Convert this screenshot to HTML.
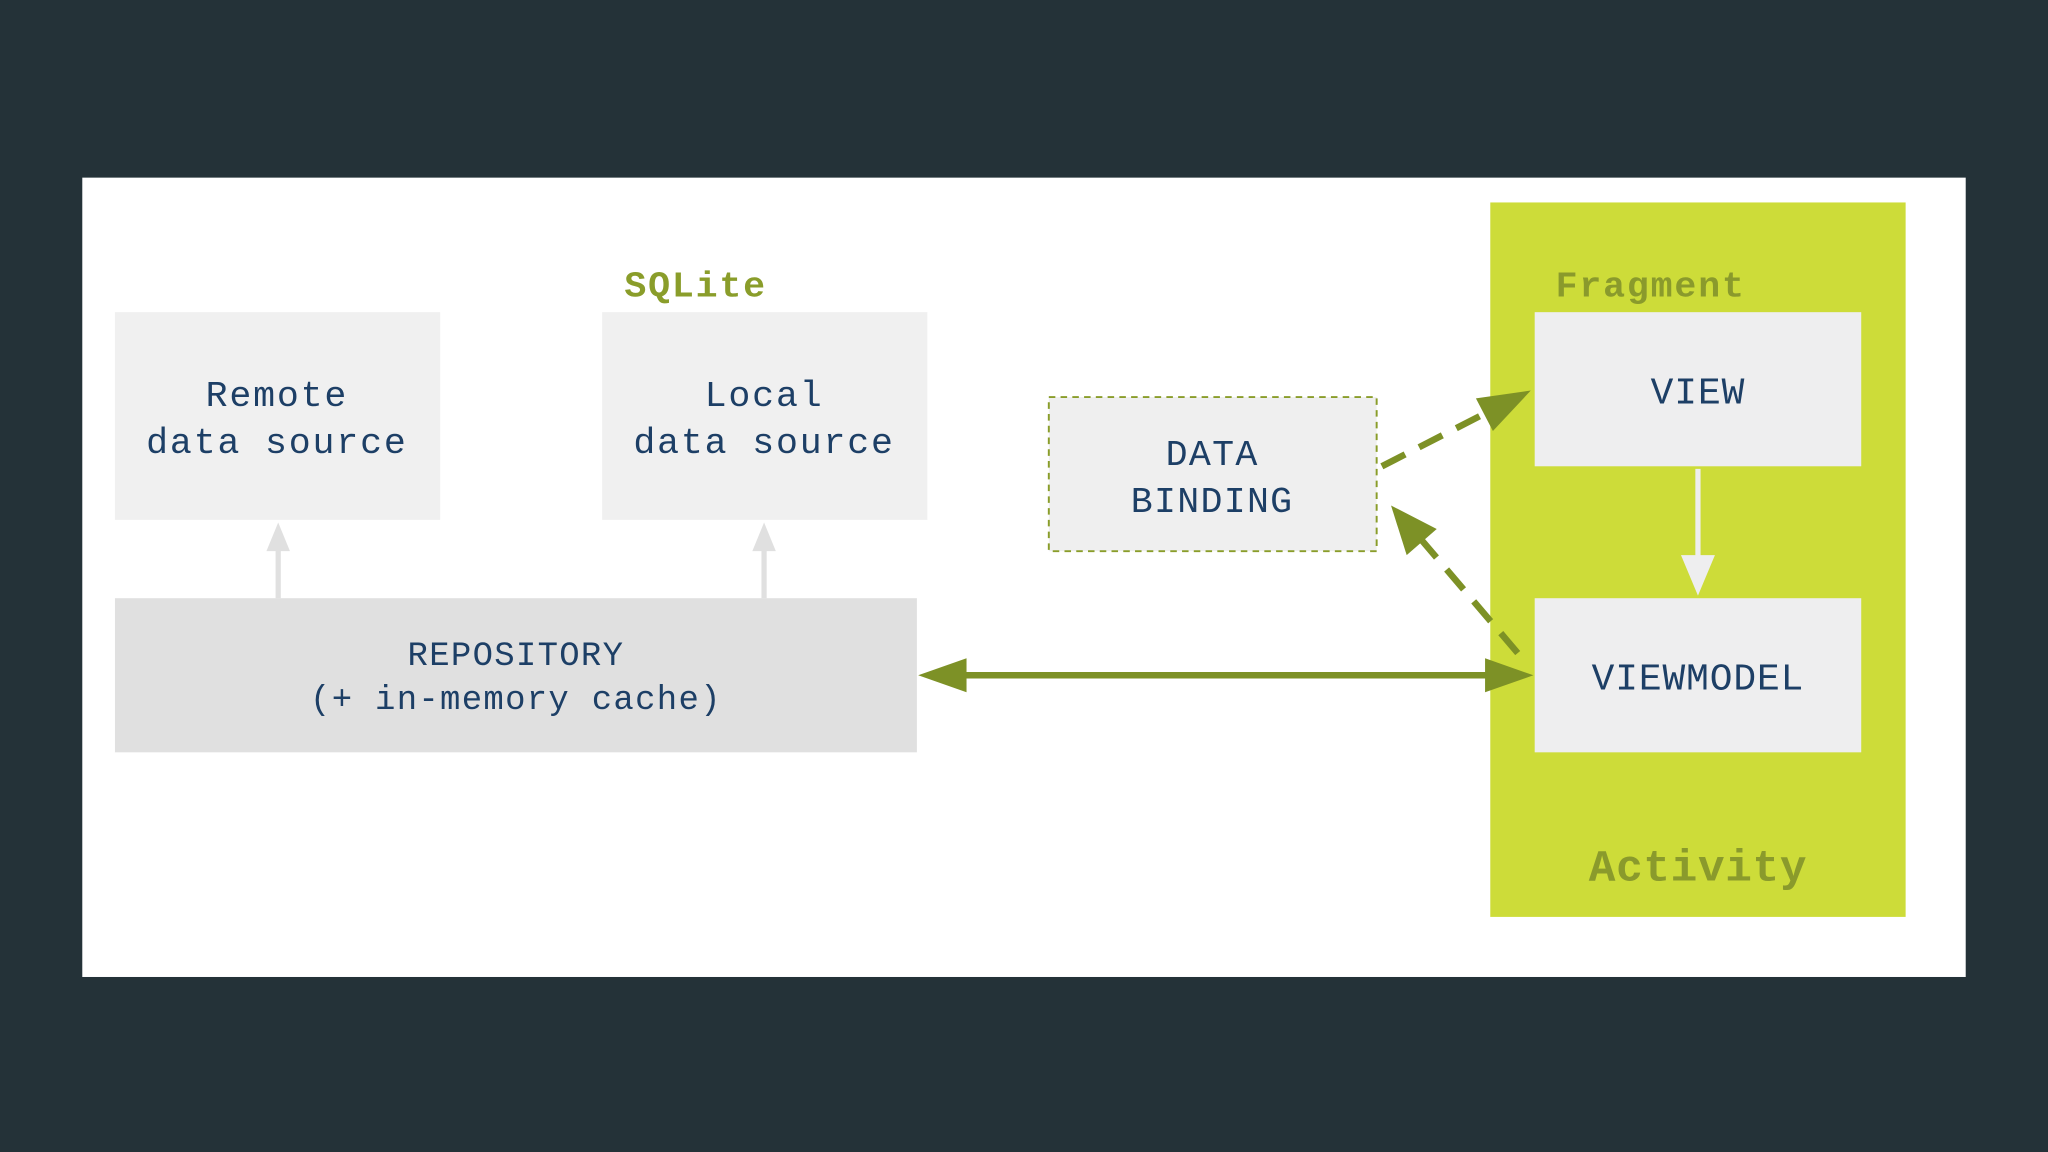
<!DOCTYPE html>
<html><head><meta charset="utf-8"><style>
html,body{margin:0;padding:0;background:#243238;}
svg{display:block}
text{font-family:"Liberation Mono",monospace;}
</style></head><body>
<svg width="2048" height="1152" viewBox="0 0 1568 882" xmlns="http://www.w3.org/2000/svg">
<rect width="1568" height="882" fill="#243238"/>
<rect x="63" y="136" width="1442" height="612" fill="#ffffff"/>
<rect x="1141" y="155" width="318" height="547" fill="#cddc39"/>
<text x="1191" y="227" font-size="28" font-weight="bold" fill="#8a9a2c" letter-spacing="1.4">Fragment</text>
<rect x="1175" y="239" width="250" height="118" fill="#eeeeef"/>
<text x="1300" y="309" font-size="29" text-anchor="middle" fill="#1d3f66" letter-spacing="0.7">VIEW</text>
<rect x="1175" y="458" width="250" height="118" fill="#eeeeef"/>
<text x="1300" y="528" font-size="29" text-anchor="middle" fill="#1d3f66" letter-spacing="0.7">VIEWMODEL</text>
<text x="1300" y="674" font-size="34" font-weight="bold" text-anchor="middle" fill="#8a9a2c" letter-spacing="0.5">Activity</text>
<line x1="1300" y1="359" x2="1300" y2="432" stroke="#eeeeef" stroke-width="4"/>
<polygon points="1287,425 1313,425 1300,456" fill="#eeeeef"/>

<rect x="88" y="239" width="249" height="159" fill="#f0f0f0"/>
<text x="212" y="311" font-size="28" text-anchor="middle" fill="#1d3f66" letter-spacing="1.4">Remote</text>
<text x="212" y="347" font-size="28" text-anchor="middle" fill="#1d3f66" letter-spacing="1.4">data source</text>
<rect x="461" y="239" width="249" height="159" fill="#f0f0f0"/>
<text x="585" y="311" font-size="28" text-anchor="middle" fill="#1d3f66" letter-spacing="1.4">Local</text>
<text x="585" y="347" font-size="28" text-anchor="middle" fill="#1d3f66" letter-spacing="1.4">data source</text>
<text x="478" y="227" font-size="28" font-weight="bold" fill="#8a9d2a" letter-spacing="1.4">SQLite</text>

<rect x="88" y="458" width="614" height="118" fill="#e0e0e0"/>
<text x="395" y="509" font-size="26" text-anchor="middle" fill="#1d3f66" letter-spacing="1">REPOSITORY</text>
<text x="395" y="543" font-size="26" text-anchor="middle" fill="#1d3f66" letter-spacing="1">(+ in-memory cache)</text>
<line x1="213" y1="458" x2="213" y2="418" stroke="#e0e0e0" stroke-width="4"/>
<polygon points="204,422 222,422 213,400" fill="#e0e0e0"/>
<line x1="585" y1="458" x2="585" y2="418" stroke="#e0e0e0" stroke-width="4"/>
<polygon points="576,422 594,422 585,400" fill="#e0e0e0"/>

<rect x="803" y="304" width="251" height="118" fill="#efefef" stroke="#8a9d2a" stroke-width="1.5" stroke-dasharray="5,4"/>
<text x="928" y="356" font-size="28" text-anchor="middle" fill="#1d3f66" letter-spacing="1">DATA</text>
<text x="928" y="392" font-size="28" text-anchor="middle" fill="#1d3f66" letter-spacing="1">BINDING</text>

<line x1="735" y1="517" x2="1142" y2="517" stroke="#7d9126" stroke-width="5"/>
<polygon points="703,517 740,504 740,530" fill="#7d9126"/>
<polygon points="1174,517 1137,504 1137,530" fill="#7d9126"/>

<line x1="1058" y1="357" x2="1140" y2="315" stroke="#7d9126" stroke-width="5" stroke-dasharray="20,12"/>
<polygon points="1172,299 1130,305 1143,330" fill="#7d9126"/>
<line x1="1162" y1="500" x2="1088" y2="413" stroke="#7d9126" stroke-width="5" stroke-dasharray="20,12"/>
<polygon points="1065,387 1077,425 1100,405" fill="#7d9126"/>
</svg>
</body></html>
